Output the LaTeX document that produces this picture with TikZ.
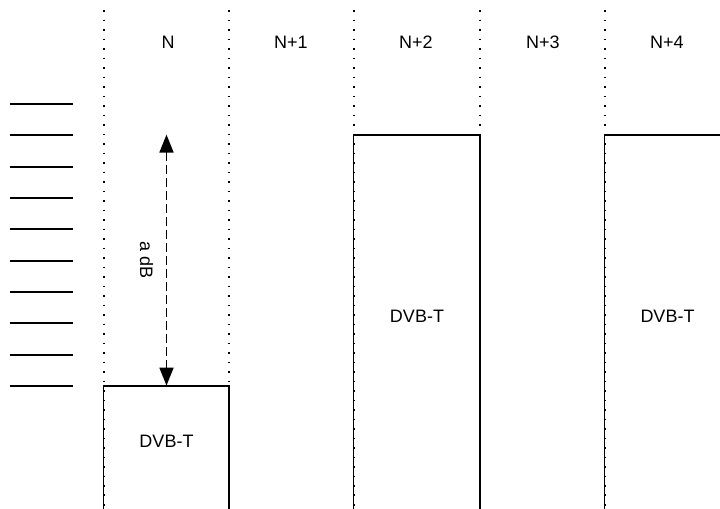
\documentclass[tikz,border=0pt]{standalone}
\usepackage{fontspec}
\setmainfont{Liberation Sans}
\usetikzlibrary{arrows.meta, positioning, fit}

\begin{document}
\begin{tikzpicture}[
    x=0.5pt, y=-0.5pt,
    >={Triangle[length=9pt, width=7pt]},
    font=\fontsize{9}{11}\selectfont,
    channel/.style = {dash pattern=on 0.9pt off 3.85pt, line width=0.9pt},
    band/.style = {inner sep=0pt},
    outline/.style = {draw, line width=0.9pt},
    tick/.style = {draw, line width=0.9pt},
    level/.style = {draw, <->, dash pattern=on 4.5pt off 2pt, line width=0.9pt}
]
    \clip (0,0) rectangle (720,509);
    % channel borders
    \foreach \x in {104,229,354,480,605}
        \draw [channel] (\x,10) -- (\x,509);
    % channel numbers
    \node (chN) at (168,42) {N};
    \node (chNa) at (291,42) {N+1};
    \node (chNb) at (416,42) {N+2};
    \node (chNc) at (543,42) {N+3};
    \node (chNd) at (667,42) {N+4};
    % level scale
    \foreach \i in {0,...,9}
        \draw [tick] (10,104+31.33*\i) -- (73,104+31.33*\i);
    % DVB-T signals
    \node [band, fit={(104,386) (229,509)}] (boxN) {DVB-T};
    \node [band, fit={(354,135) (480,509)}] (boxNb) {DVB-T};
    \node [band, fit={(605,135) (730,509)}] (boxNd) {DVB-T};
    \draw [outline] (boxN.south west) |- (boxN.north east) -- (boxN.south east);
    \draw [outline] (boxNb.south west) |- (boxNb.north east) -- (boxNb.south east);
    \draw [outline] (boxNd.south west) |- (boxNd.north east) -- (boxNd.south east);
    \coordinate (ref) at (boxN.north |- boxNb.north);
    \draw [level] (ref) -- node[midway, xshift=-10pt, rotate=-90] {a dB} (boxN.north);
\end{tikzpicture}
\end{document}
